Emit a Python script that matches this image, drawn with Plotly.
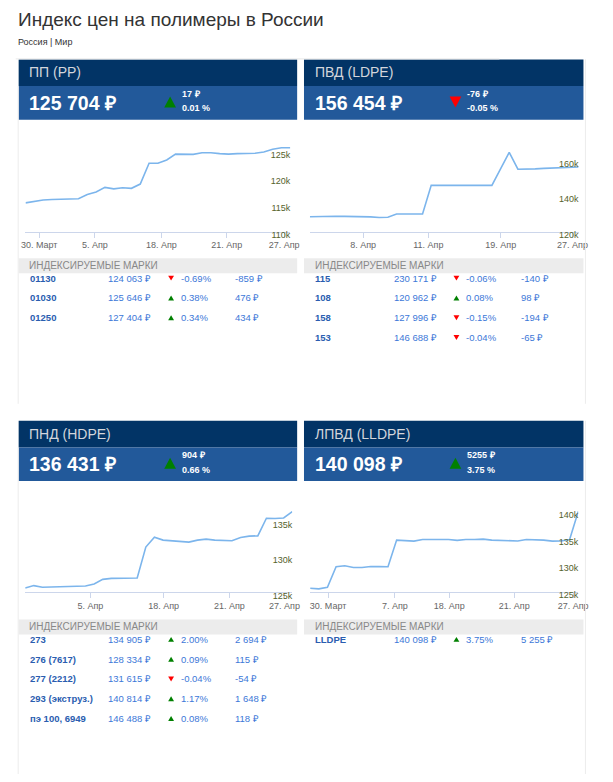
import plotly.graph_objects as go

W, H = 613, 782
FONT = "Liberation Sans, Arial, sans-serif"


def px(x):
    return x / W


def py(y):
    return 1 - y / H


# ---------------- DATA ----------------
title_text = "Индекс цен на полимеры в России"
subtitle_text = "Россия | Мир"
table_title = "ИНДЕКСИРУЕМЫЕ МАРКИ"

# PP
pp_name = "ПП (PP)"
pp_price = 125704
pp_change = 17
pp_pct = 0.01
pp_values = [115.37, 115.65, 115.9, 116.0, 116.05, 116.05, 116.15, 116.95, 117.4, 118.28,
             118.0, 118.2, 118.1, 118.9, 122.8, 122.8, 123.4, 124.5, 124.45, 124.45,
             124.76, 124.76, 124.6, 124.5, 124.6, 124.6, 124.65, 124.9, 125.4, 125.687, 125.704]
pp_tick_pos = [1.55, 7.86, 15.39, 22.8, 29.3]
pp_tick_text = ["30. Март", "5. Апр", "18. Апр", "21. Апр", "27. Апр"]
pp_ytick = [110, 115, 120, 125]
pp_grades = ["01130", "01030", "01250"]
pp_grade_prices = [124063, 125646, 127404]
pp_grade_pct = [-0.69, 0.38, 0.34]
pp_grade_chg = [-859, 476, 434]

# LDPE
ldpe_name = "ПВД (LDPE)"
ldpe_price = 156454
ldpe_change = -76
ldpe_pct = -0.05
ldpe_values = [128.4, 128.6, 128.8, 128.7, 128.6, 128.6, 128.5, 128.3, 128.0, 128.1,
               129.9, 129.9, 129.9, 129.9, 146.1, 146.2, 146.3, 146.2, 146.1, 146.1,
               146.1, 146.1, 155.4, 164.7, 155.2, 155.2, 155.4, 155.7, 155.9, 156.1,
               156.53, 156.454]
ldpe_tick_pos = [6.14, 13.67, 22.03, 30.3]
ldpe_tick_text = ["8. Апр", "11. Апр", "19. Апр", "27. Апр"]
ldpe_ytick = [120, 140, 160]
ldpe_grades = ["115", "108", "158", "153"]
ldpe_grade_prices = [230171, 120962, 127996, 146688]
ldpe_grade_pct = [-0.06, 0.08, -0.15, -0.04]
ldpe_grade_chg = [-140, 98, -194, -65]

# HDPE
hdpe_name = "ПНД (HDPE)"
hdpe_price = 136431
hdpe_change = 904
hdpe_pct = 0.66
hdpe_values = [125.63, 125.96, 125.72, 125.75, 125.77, 125.79, 125.82, 125.9, 126.19, 126.84,
               126.98, 127.0, 127.0, 127.03, 131.42, 132.82, 132.4, 132.3, 132.2, 132.12,
               132.4, 132.54, 132.4, 132.3, 132.3, 132.77, 132.96, 133.0, 135.5, 135.45,
               135.527, 136.431]
hdpe_tick_pos = [7.56, 16.07, 23.7, 30.1]
hdpe_tick_text = ["5. Апр", "18. Апр", "21. Апр", "27. Апр"]
hdpe_ytick = [125, 130, 135]
hdpe_grades = ["273", "276 (7617)", "277 (2212)", "293 (экструз.)", "пэ 100, 6949"]
hdpe_grade_prices = [134905, 128334, 131615, 140814, 146488]
hdpe_grade_pct = [2.00, 0.09, -0.04, 1.17, 0.08]
hdpe_grade_chg = [2694, 115, -54, 1648, 118]

# LLDPE
lldpe_name = "ЛПВД (LLDPE)"
lldpe_price = 140098
lldpe_change = 5255
lldpe_pct = 3.75
lldpe_values = [125.68, 125.56, 125.87, 129.71, 129.9, 129.58, 129.58, 129.77, 129.74, 129.71,
                134.73, 134.63, 134.54, 134.85, 134.85, 134.85, 134.85, 134.67, 134.85, 134.85,
                134.91, 134.73, 134.7, 134.63, 134.57, 134.85, 134.85, 134.73, 134.54, 134.57,
                134.843, 140.098]
lldpe_tick_pos = [2.07, 9.79, 16.08, 23.6, 30.4]
lldpe_tick_text = ["30. Март", "7. Апр", "18. Апр", "21. Апр", "27. Апр"]
lldpe_ytick = [125, 130, 135, 140]
lldpe_grades = ["LLDPE"]
lldpe_grade_prices = [140098]
lldpe_grade_pct = [3.75]
lldpe_grade_chg = [5255]

# ---------------- LAYOUT (pixel geometry) ----------------
panels = [
    dict(name=pp_name, price=pp_price, chg=pp_change, pct=pp_pct, values=pp_values,
         tpos=pp_tick_pos, ttext=pp_tick_text, ytick=pp_ytick,
         x0=15, x1=300, top=60, plot=(22, 293, 130, 234), yr=[110, 129.26],
         grades=pp_grades, gprices=pp_grade_prices, gpct=pp_grade_pct, gchg=pp_grade_chg,
         band=261, rows0=281, cols=(25.7, 105.7, 171, 180, 235.7)),
    dict(name=ldpe_name, price=ldpe_price, chg=ldpe_change, pct=ldpe_pct, values=ldpe_values,
         tpos=ldpe_tick_pos, ttext=ldpe_tick_text, ytick=ldpe_ytick,
         x0=307, x1=593, top=60, plot=(313, 588, 130, 234), yr=[120, 178.1],
         grades=ldpe_grades, gprices=ldpe_grade_prices, gpct=ldpe_grade_pct, gchg=ldpe_grade_chg,
         band=261, rows0=281, cols=(317.7, 397.7, 463, 471.7, 528.3)),
    dict(name=hdpe_name, price=hdpe_price, chg=hdpe_change, pct=hdpe_pct, values=hdpe_values,
         tpos=hdpe_tick_pos, ttext=hdpe_tick_text, ytick=hdpe_ytick,
         x0=15, x1=300, top=425, plot=(21.7, 295, 495, 598.5), yr=[125, 139.5],
         grades=hdpe_grades, gprices=hdpe_grade_prices, gpct=hdpe_grade_pct, gchg=hdpe_grade_chg,
         band=626, rows0=646, cols=(25.7, 105.7, 171, 180, 235.7)),
    dict(name=lldpe_name, price=lldpe_price, chg=lldpe_change, pct=lldpe_pct, values=lldpe_values,
         tpos=lldpe_tick_pos, ttext=lldpe_tick_text, ytick=lldpe_ytick,
         x0=307, x1=593, top=425, plot=(313.3, 587.7, 495, 598), yr=[125, 144.15],
         grades=lldpe_grades, gprices=lldpe_grade_prices, gpct=lldpe_grade_pct, gchg=lldpe_grade_chg,
         band=626, rows0=646, cols=(317.7, 397.7, 463, 471.7, 528.3)),
]


def fmt_num(v):
    s = f"{abs(v):,}".replace(",", " ")
    return ("-" if v < 0 else "") + s


fig = go.Figure()
shapes = []
ann = []


def text(x, y, t, size, color, bold=False, anchor="left"):
    ann.append(dict(x=px(x), y=py(y), xref="paper", yref="paper", text=(f"<b>{t}</b>" if bold else t),
                    showarrow=False, xanchor=anchor, yanchor="middle", borderpad=0,
                    font=dict(family=FONT, size=size, color=color)))


def rect(x0, y0, x1, y1, color):
    shapes.append(dict(type="rect", xref="paper", yref="paper", x0=px(x0), x1=px(x1),
                       y0=py(y1), y1=py(y0), fillcolor=color, line=dict(width=0), layer="below"))


def hline(x0, x1, y, color):
    shapes.append(dict(type="line", xref="paper", yref="paper", x0=px(x0), x1=px(x1),
                       y0=py(y), y1=py(y), line=dict(color=color, width=1)))


def vline(x, y0, y1, color):
    shapes.append(dict(type="line", xref="paper", yref="paper", x0=px(x), x1=px(x),
                       y0=py(y0), y1=py(y1), line=dict(color=color, width=1)))


def tri(cx, cy, w, h, up):
    col = "#008000" if up else "#ff0000"
    if up:
        pts = [(cx - w / 2, cy + h / 2), (cx + w / 2, cy + h / 2), (cx, cy - h / 2)]
    else:
        pts = [(cx - w / 2, cy - h / 2), (cx + w / 2, cy - h / 2), (cx, cy + h / 2)]
    path = "M " + " L ".join(f"{px(a):.5f},{py(b):.5f}" for a, b in pts) + " Z"
    shapes.append(dict(type="path", xref="paper", yref="paper", path=path,
                       fillcolor=col, line=dict(width=0)))


# Title
text(13, 19.5, title_text, 19, "#333333")
text(13, 42, subtitle_text, 9, "#333333")
hline(12, 507, 59.5, "#e8e8e8")

# panel side borders
vline(14.5, 87, 408, "#ececec")
vline(595, 60, 408, "#ececec")
vline(14.5, 452, 782, "#ececec")
vline(595, 425, 782, "#ececec")

layout_axes = {}
for i, p in enumerate(panels):
    k = "" if i == 0 else str(i + 1)
    x0, x1, top = p["x0"], p["x1"], p["top"]
    # header
    rect(x0, top, x1, top + 27, "#023466")
    rect(x0, top + 27, x1, top + 61, "#22599a")
    tx = x0 + 10
    text(tx, top + 13, p["name"], 14, "#d3d6dc")
    text(tx, top + 44, fmt_num(p["price"]) + " ₽", 19.5, "#ffffff", bold=True)
    up = p["chg"] >= 0
    tcx = x0 + 155
    tri(tcx, top + 43, 12, 11, up)
    text(x0 + 166, top + 35, f"{p['chg']} ₽", 9, "#ffffff", bold=True)
    text(x0 + 166, top + 49.5, f"{p['pct']:.2f} %", 9, "#ffffff", bold=True)

    # chart
    cx0, cx1, cy0, cy1 = p["plot"]
    vals = p["values"]
    fig.add_trace(go.Scatter(x=list(range(len(vals))), y=[v * 1000 for v in vals],
                             mode="lines", line=dict(color="#7cb5ec", width=1.6),
                             xaxis="x" + k, yaxis="y" + k, hoverinfo="skip", showlegend=False))
    layout_axes["xaxis" + k] = dict(
        domain=[px(cx0), px(cx1)], anchor="y" + k, range=[0, len(vals) - 1],
        showgrid=False, zeroline=False, showline=True, linecolor="#ccd6eb", linewidth=1,
        ticks="outside", ticklen=5, tickcolor="#ccd6eb", tickwidth=1,
        tickmode="array", tickvals=p["tpos"], ticktext=p["ttext"], ticklabeloverflow="allow",
        tickfont=dict(family=FONT, size=9, color="#666666"), fixedrange=True)
    layout_axes["yaxis" + k] = dict(
        domain=[py(cy1), py(cy0)], anchor="x" + k, range=[p["yr"][0] * 1000, p["yr"][1] * 1000],
        side="right", ticklabelposition="inside", showgrid=False, zeroline=False,
        showline=False, ticks="", tickmode="array", ticklabeloverflow="allow",
        tickvals=[v * 1000 for v in p["ytick"]], ticktext=[f"{v}k" for v in p["ytick"]],
        tickfont=dict(family=FONT, size=9, color="#55622c"),
        ticklabelshift=3, ticklabelstandoff=-3, fixedrange=True)

    # table
    band = p["band"]
    rect(x0, band, x1, band + 15, "#ececec")
    text(tx, band + 7, table_title, 10, "#888888")
    c_name, c_price, c_tri, c_pct, c_chg = p["cols"]
    for r, g in enumerate(p["grades"]):
        yy = p["rows0"] + 20 * r
        text(c_name, yy, g, 9.5, "#2a5db0", bold=True)
        text(c_price, yy, fmt_num(p["gprices"][r]) + " ₽", 9.5, "#3c78d8")
        tri(c_tri, yy, 6, 5, p["gpct"][r] >= 0)
        text(c_pct, yy, f"{p['gpct'][r]:.2f}%", 9.5, "#3c78d8")
        text(c_chg, yy, fmt_num(p["gchg"][r]) + " ₽", 9.5, "#3c78d8")

fig.update_layout(
    width=W, height=H, margin=dict(l=0, r=0, t=0, b=0),
    paper_bgcolor="#ffffff", plot_bgcolor="rgba(0,0,0,0)",
    showlegend=False, shapes=shapes, annotations=ann, **layout_axes)

fig.write_html("out.html", config={"displayModeBar": False},
               post_script="document.body.style.margin='0';document.body.style.overflow='hidden';")
